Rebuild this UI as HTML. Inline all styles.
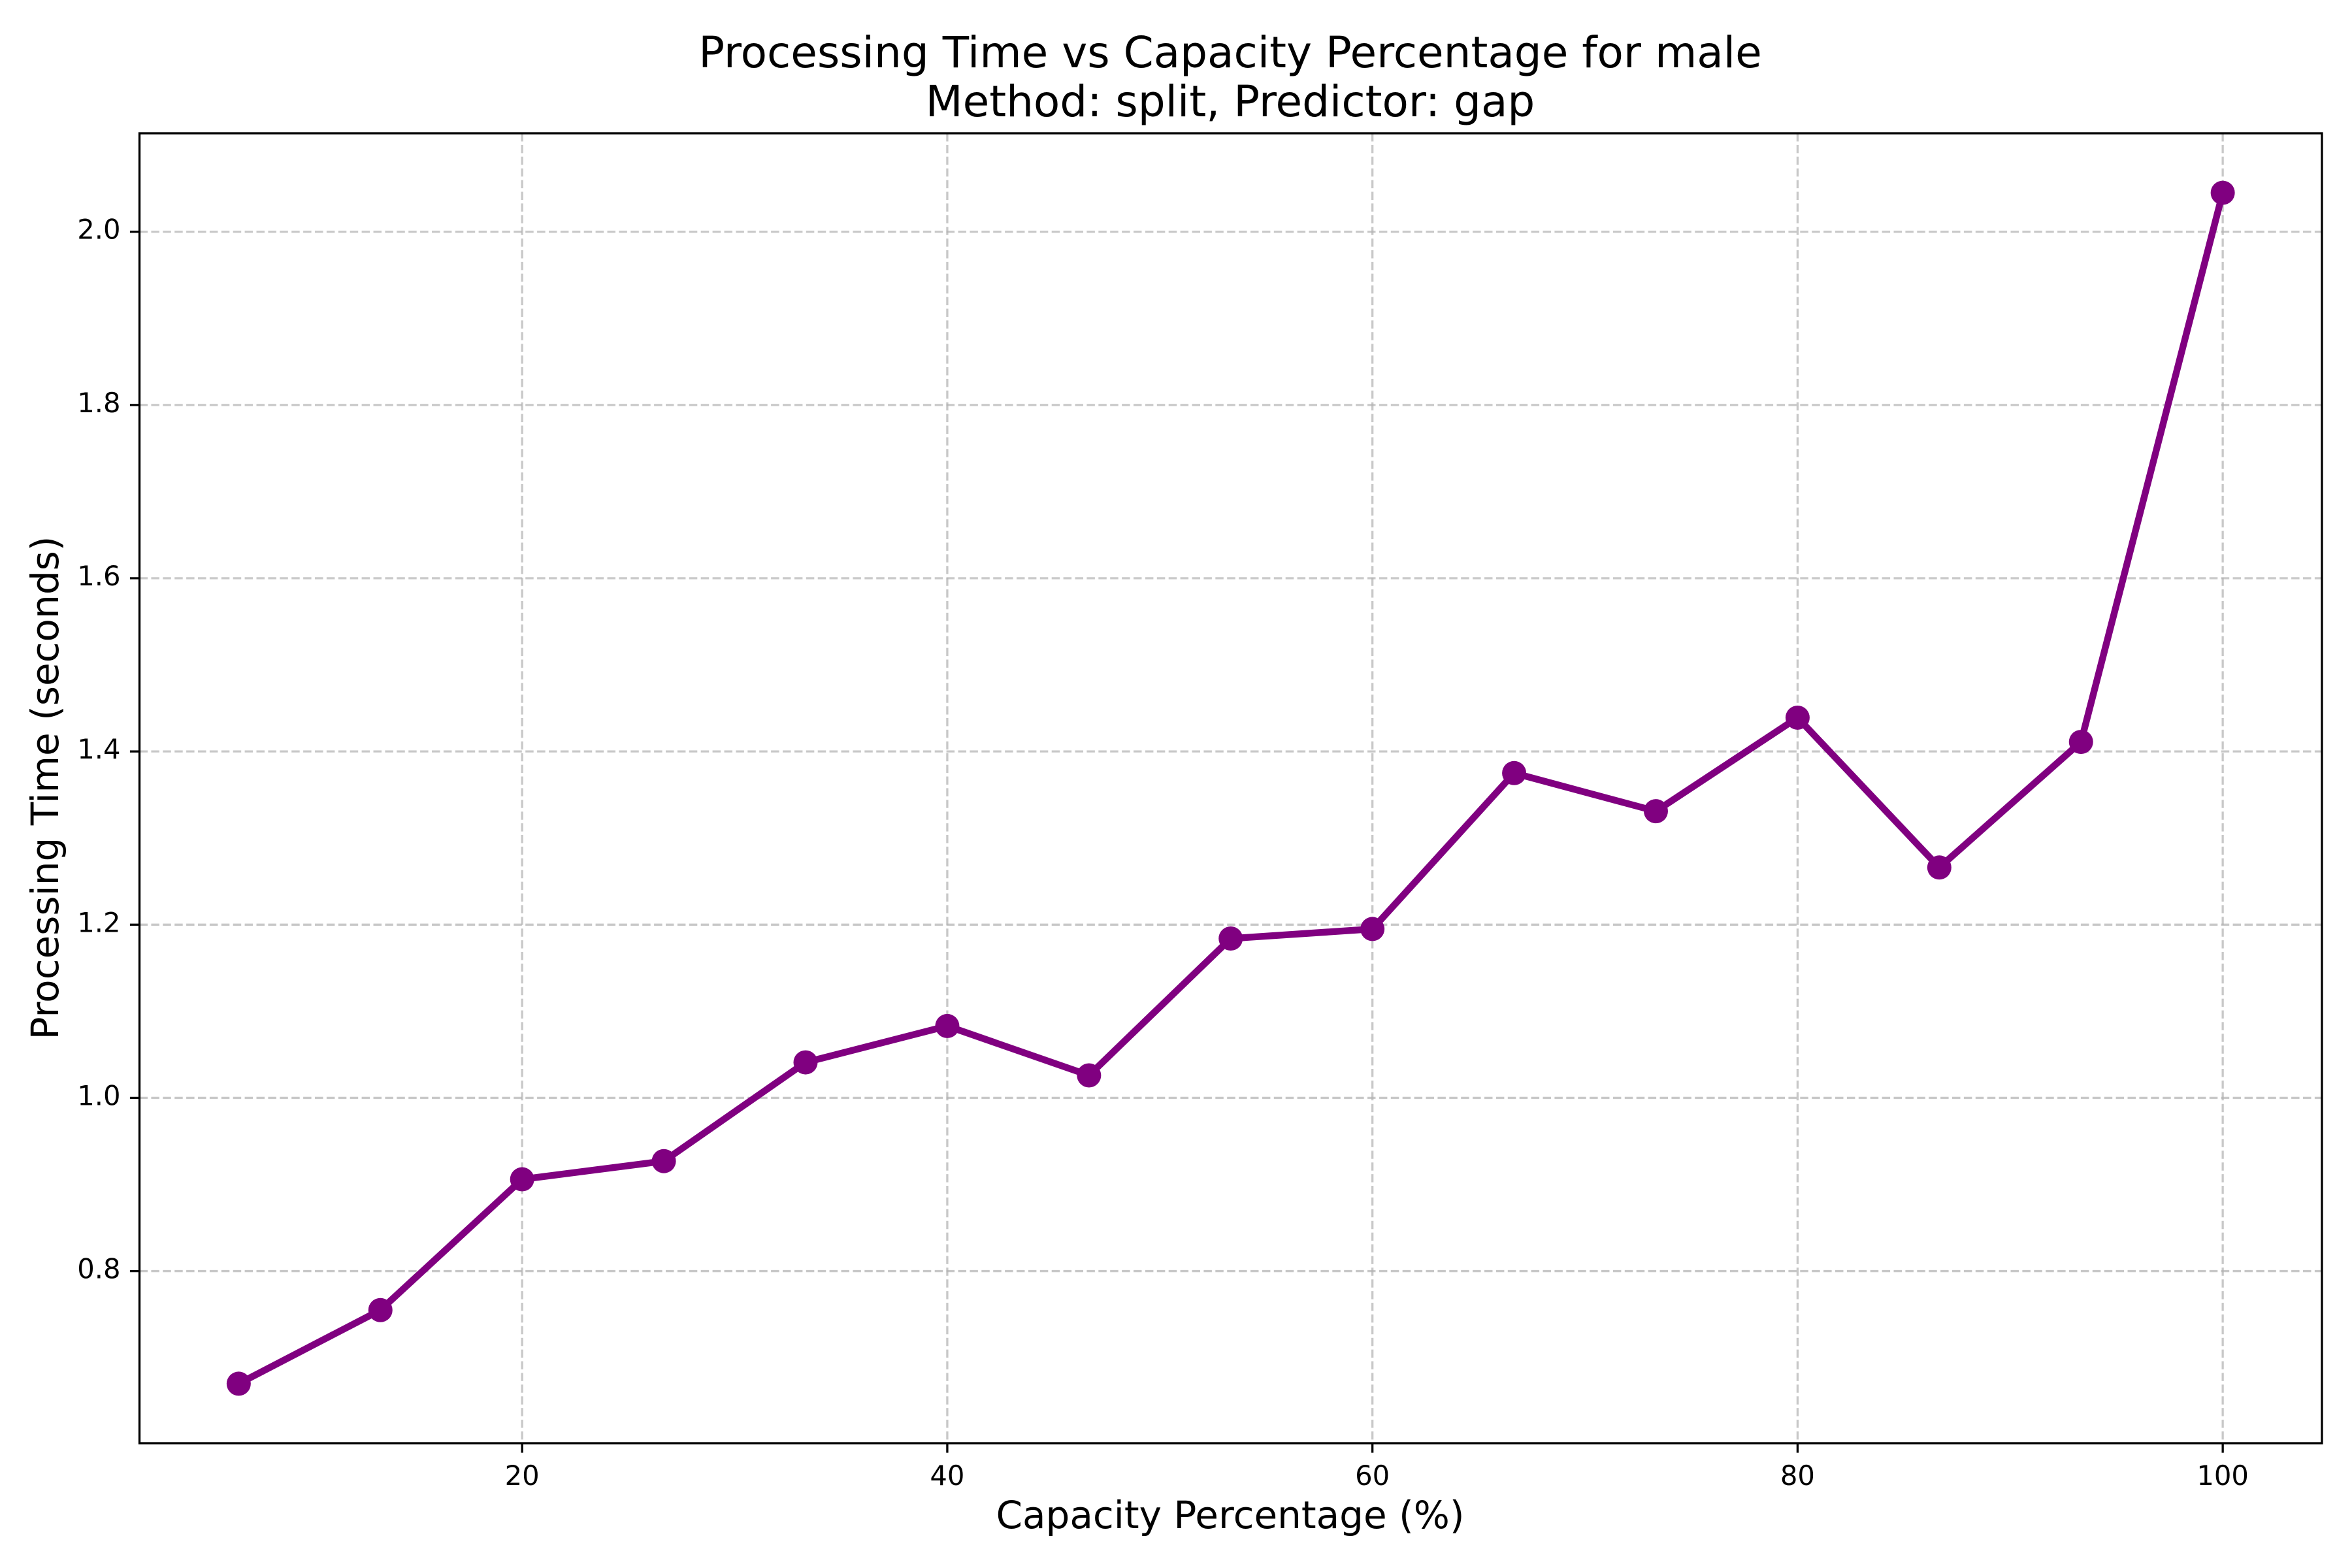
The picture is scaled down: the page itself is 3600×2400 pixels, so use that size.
<!DOCTYPE html>
<html><head><meta charset="utf-8"><style>
html,body{margin:0;padding:0;background:#fff;}
svg{display:block;font-family:"DejaVu Sans","Liberation Sans",sans-serif;}
</style></head><body>
<svg id="chart" width="3600" height="2400" viewBox="0 0 3600 2400" xmlns="http://www.w3.org/2000/svg">
<rect width="3600" height="2400" fill="#fff"/>
<g id="grid"></g>
<g id="series"></g>
<rect x="213.5" y="204" width="3340.5" height="2005" fill="none" stroke="#000" stroke-width="3.3"/>
<g id="ticks"></g>
<text x="1883" y="85" text-anchor="middle" dominant-baseline="middle" font-size="66">Processing Time vs Capacity Percentage for male</text>
<text x="1883" y="160" text-anchor="middle" dominant-baseline="middle" font-size="66">Method: split, Predictor: gap</text>
<text x="1883" y="2323" text-anchor="middle" dominant-baseline="middle" font-size="58">Capacity Percentage (%)</text>
<text x="0" y="0" transform="translate(73,1206) rotate(-90)" text-anchor="middle" dominant-baseline="middle" font-size="58">Processing Time (seconds)</text>
</svg>
<script>
const capacity = [6.667,13.333,20,26.667,33.333,40,46.667,53.333,60,66.667,73.333,80,86.667,93.333,100];
const times = [0.670,0.755,0.906,0.927,1.041,1.083,1.026,1.184,1.195,1.375,1.331,1.439,1.266,1.411,2.045];
const xTicks = [20,40,60,80,100];
const yTicks = [0.8,1.0,1.2,1.4,1.6,1.8,2.0];
const xTickLabels = ["20","40","60","80","100"];
const yTickLabels = ["0.8","1.0","1.2","1.4","1.6","1.8","2.0"];

const L=213.5,R=3554,T=204,B=2209;
const xmin=2.0,xmax=104.667,ymin=0.6013,ymax=2.1137;
function sx(v){return L+(v-xmin)/(xmax-xmin)*(R-L);}
function sy(v){return B-(v-ymin)/(ymax-ymin)*(B-T);}
const NS="http://www.w3.org/2000/svg";
function mk(tag,attrs,parent){const e=document.createElementNS(NS,tag);for(const k in attrs)e.setAttribute(k,attrs[k]);parent.appendChild(e);return e;}
const grid=document.getElementById('grid'),ticks=document.getElementById('ticks'),series=document.getElementById('series');
xTicks.forEach((v,i)=>{
  const x=sx(v);
  const g=mk('line',{x1:x,x2:x,y1:T,y2:B,stroke:'#b0b0b0','stroke-opacity':0.7,'stroke-width':3.3,'stroke-dasharray':'12.5 5.4'},grid);
  
  
  const t=mk('line',{x1:x,x2:x,y1:B,y2:B+14.6,stroke:'#000','stroke-width':3.3},ticks);
  
  
  const lb=mk('text',{x:x,y:B+33,'text-anchor':'middle','dominant-baseline':'hanging','font-size':41.7},ticks);
  lb.textContent=xTickLabels[i];
  
  
});
yTicks.forEach((v,i)=>{
  const y=sy(v);
  const g=mk('line',{x1:L,x2:R,y1:y,y2:y,stroke:'#b0b0b0','stroke-opacity':0.7,'stroke-width':3.3,'stroke-dasharray':'12.5 5.4'},grid);
  
  
  const t=mk('line',{x1:L-14.6,x2:L,y1:y,y2:y,stroke:'#000','stroke-width':3.3},ticks);
  
  
  const lb=mk('text',{x:L-29,y:y,'text-anchor':'end','dominant-baseline':'middle','font-size':41.7},ticks);
  lb.textContent=yTickLabels[i];
  
  
});
const pts=capacity.map((c,i)=>sx(c)+','+sy(times[i])).join(' ');
const pl=mk('polyline',{points:pts,fill:'none',stroke:'#800080','stroke-width':10.4,'stroke-linejoin':'round','stroke-linecap':'square'},series);


capacity.forEach((c,i)=>{
  const p=mk('circle',{cx:sx(c),cy:sy(times[i]),r:18.5,fill:'#800080'},series);
  
  
});
</script>
</body></html>
